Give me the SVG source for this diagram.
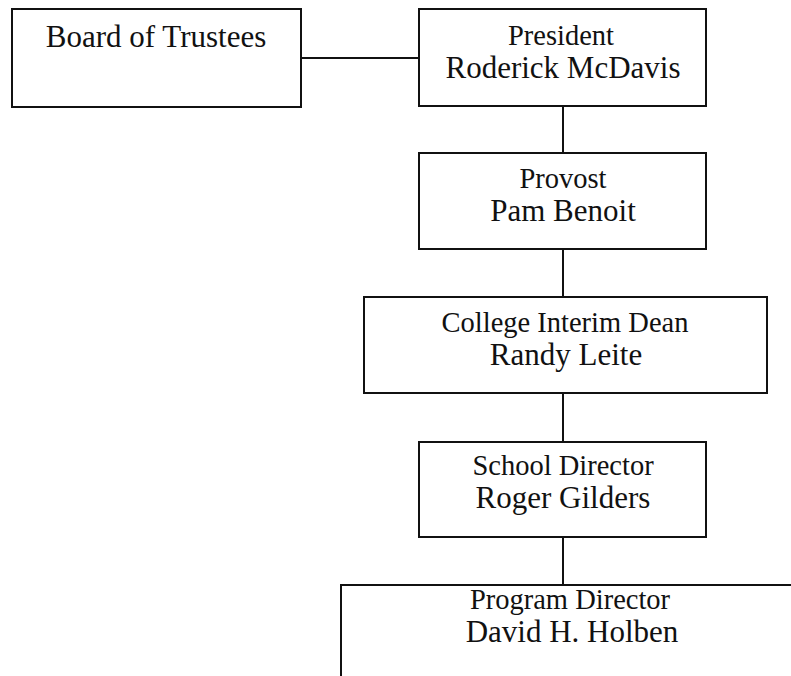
<svg xmlns="http://www.w3.org/2000/svg" width="791" height="676" viewBox="0 0 791 676">
<style>
.box{fill:#fff;stroke:#111;stroke-width:2}
.ln{stroke:#111;stroke-width:2;fill:none}
text{font-family:"Liberation Serif","Times New Roman",serif;fill:#111;text-anchor:middle}
.t{font-size:28.5px}
.n{font-size:31px}
</style>
<rect width="791" height="676" fill="#fff"/>
<g id="connectors">
<line class="ln" x1="301" y1="58" x2="419" y2="58"/>
<line class="ln" x1="563" y1="106" x2="563" y2="153"/>
<line class="ln" x1="563" y1="249" x2="563" y2="297"/>
<line class="ln" x1="563" y1="393" x2="563" y2="442"/>
<line class="ln" x1="563" y1="537" x2="563" y2="585"/>
</g>
<g id="board">
<rect class="box" x="12" y="9" width="289" height="98"/>
<text class="n" x="156" y="47">Board of Trustees</text>
</g>
<g id="president">
<rect class="box" x="419" y="9" width="287" height="97"/>
<text class="t" x="561" y="45">President</text>
<text class="n" x="563" y="78">Roderick McDavis</text>
</g>
<g id="provost">
<rect class="box" x="419" y="153" width="287" height="96"/>
<text class="t" x="563" y="188">Provost</text>
<text class="n" x="563" y="221">Pam Benoit</text>
</g>
<g id="dean">
<rect class="box" x="364" y="297" width="403" height="96"/>
<text class="t" x="565" y="332">College Interim Dean</text>
<text class="n" x="566" y="365">Randy Leite</text>
</g>
<g id="school">
<rect class="box" x="419" y="442" width="287" height="95"/>
<text class="t" x="563" y="475">School Director</text>
<text class="n" x="563" y="508">Roger Gilders</text>
</g>
<g id="program">
<rect class="box" x="341" y="585" width="470" height="120"/>
<text class="t" x="570" y="609">Program Director</text>
<text class="n" x="572" y="642">David H. Holben</text>
</g>
</svg>
